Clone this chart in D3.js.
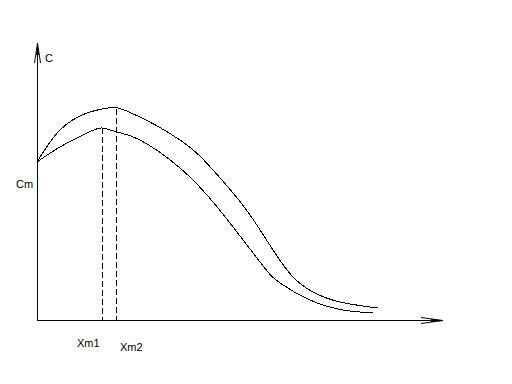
<!DOCTYPE html>
<html>
<head>
<meta charset="utf-8">
<script src="https://cdn.jsdelivr.net/npm/d3@7"></script>
<style>
  html, body { margin: 0; padding: 0; background: #fff; }
  text { font-family: "Liberation Sans", Arial, sans-serif; font-size: 11px; fill: #000; }
</style>
</head>
<body>
<svg id="chart" width="512" height="384"></svg>
<script>
// curve points (x, C)
const upperCurve = [
  [0,158],[23,190],[50,207],[71,212],[92,208],[143,180],
  [176,150],[208,112],[236,70],[256,43],[276,28],[303,18],[341,12]
];
const lowerCurve = [
  [0,158],[23,173],[50,187],[65,192],[80,188],[103,180],[143,152],
  [181,112],[223,58],[243,37],[273,20],[306,10],[336,7]
];
const peaks = [
  { x: 65, c: 192, label: "Xm1" },
  { x: 79, c: 211, label: "Xm2" }
];
const cmValue = 158;

const svg = d3.select("#chart");
const x = d3.scaleLinear().domain([0, 406]).range([37, 443]);
const y = d3.scaleLinear().domain([0, 277]).range([320, 43]);

const line = d3.line()
  .x(d => x(d[0]))
  .y(d => y(d[1]))
  .curve(d3.curveNatural);

// axes
svg.append("line")
  .attr("x1", x(0) + 0.5).attr("x2", x(0) + 0.5)
  .attr("y1", y(0)).attr("y2", y(277))
  .attr("stroke", "#000");
svg.append("line")
  .attr("x1", x(0)).attr("x2", x(406))
  .attr("y1", y(0) + 0.5).attr("y2", y(0) + 0.5)
  .attr("stroke", "#000");

// arrow heads
const ax = x(0) + 0.5, ay = y(277);
svg.append("path")
  .attr("d", `M${ax},${ay} L${ax - 3},${ay + 20} M${ax},${ay} L${ax + 3},${ay + 20}`)
  .attr("stroke", "#000").attr("fill", "none");
svg.append("path")
  .attr("d", `M${ax},${ay} L${ax - 1.5},${ay + 12} L${ax + 1.5},${ay + 12} Z`)
  .attr("fill", "#000");
const bx = x(406), by = y(0) + 0.5;
svg.append("path")
  .attr("d", `M${bx},${by} L${bx - 22},${by - 3} M${bx},${by} L${bx - 22},${by + 3}`)
  .attr("stroke", "#000").attr("fill", "none");
svg.append("path")
  .attr("d", `M${bx},${by} L${bx - 12},${by - 1.5} L${bx - 12},${by + 1.5} Z`)
  .attr("fill", "#000");

// curves
svg.selectAll("path.curve")
  .data([upperCurve, lowerCurve])
  .join("path")
  .attr("class", "curve")
  .attr("d", line)
  .attr("fill", "none")
  .attr("stroke", "#000")
  .attr("stroke-width", 1)
  .attr("shape-rendering", "crispEdges");

// dashed drop lines
svg.selectAll("line.drop")
  .data(peaks)
  .join("line")
  .attr("class", "drop")
  .attr("x1", d => x(d.x) + 0.5).attr("x2", d => x(d.x) + 0.5)
  .attr("y1", d => y(d.c)).attr("y2", y(0))
  .attr("stroke", "#000")
  .attr("stroke-dasharray", "6,3");

// labels
svg.append("text").attr("x", 45).attr("y", y(277) + 19).text("C");
svg.append("text").attr("x", 16).attr("y", y(cmValue) + 26).text("Cm");
svg.selectAll("text.peak")
  .data(peaks)
  .join("text")
  .attr("class", "peak")
  .attr("x", (d, i) => x(d.x) - (i === 0 ? 25 : -4))
  .attr("y", (d, i) => y(0) + (i === 0 ? 27 : 31))
  .text(d => d.label);
</script>
</body>
</html>
